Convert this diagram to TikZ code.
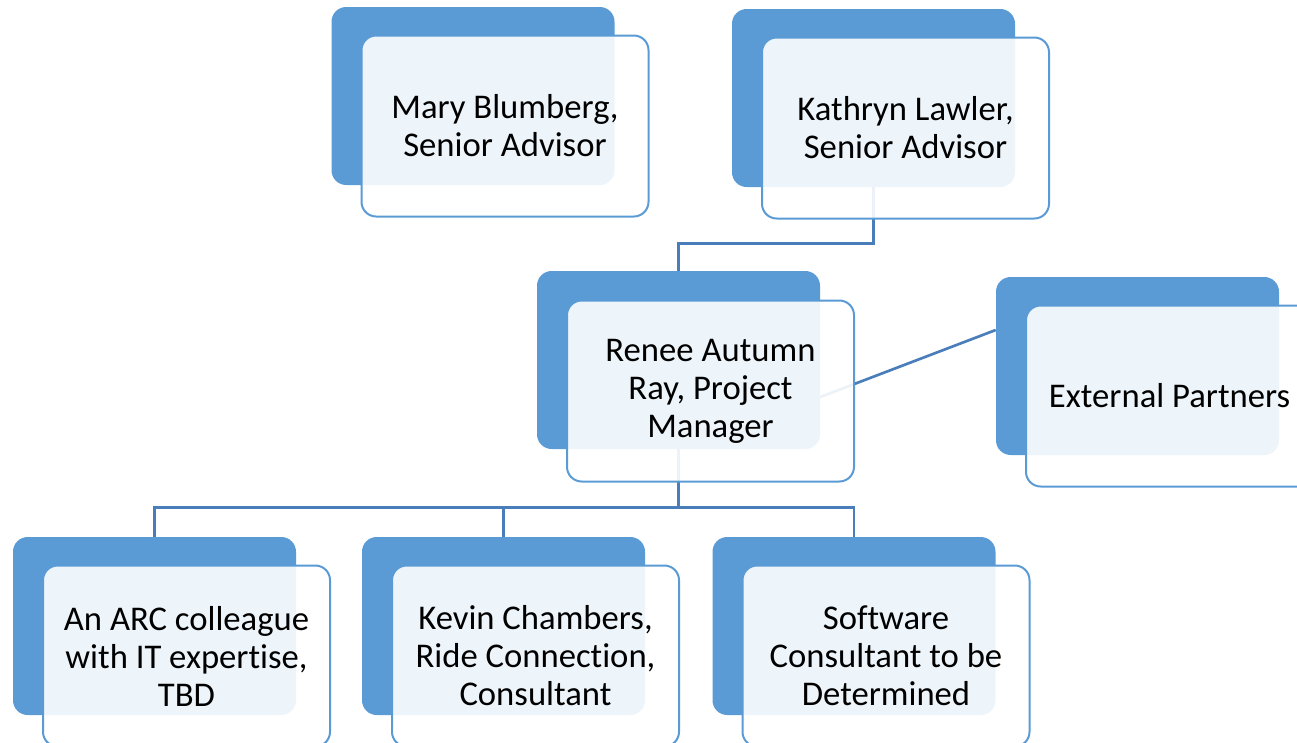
\documentclass[tikz,border=0pt]{standalone}
\usepackage{fontspec}
\setmainfont{Carlito}[Ligatures=NoCommon]
\usetikzlibrary{positioning}

\definecolor{boxblue}{RGB}{91,155,213}
\definecolor{lineblue}{RGB}{74,126,187}

\begin{document}
\begin{tikzpicture}[x=0.75pt, y=-0.75pt,
    backbox/.style={fill=boxblue, rounded corners=11pt, inner sep=0pt,
        minimum width=212.25pt, minimum height=133.5pt},
    frontbox/.style={draw=boxblue, line width=1.5pt, fill=white, fill opacity=0.9,
        text opacity=1, rounded corners=11pt, inner sep=0pt, align=center,
        minimum width=215.25pt, minimum height=135.75pt,
        font=\fontsize{26}{28.5}\selectfont},
    link/.style={draw=lineblue, line width=2pt}]

    \useasboundingbox (0,0) rectangle (1297,743); % page size

    % Dark back cards
    \node[backbox] (maryb) at (473,96) {}; % top row
    \node[backbox] (kathrynb) at (873.5,98) {};
    \node[backbox] (reneeb) at (678.5,360) {}; % project manager
    \node[backbox] (extb) at (1137.5,366) {};
    \node[backbox] (arcb) at (154.5,626) {}; % bottom row
    \node[backbox] (kevinb) at (503.5,626) {};
    \node[backbox] (softb) at (854,626) {};

    % Connectors, drawn under the light cards
    \draw[link] (kathrynb.south) -- ++(0,56) -| (reneeb.north);
    \draw[link] (reneeb.south) -- ++(0,58) coordinate (split); % branch point
    \draw[link] (split) -| (arcb.north);
    \draw[link] (split) -| (kevinb.north);
    \draw[link] (split) -| (softb.north);
    \draw[link] ([yshift=-27.75pt]reneeb.east) -- ([yshift=27pt]extb.west); % side link

    % Light front cards with the names
    \node[frontbox] (mary) at ([shift={(32,30)}]maryb.center) {Mary Blumberg,\\Senior Advisor};
    \node[frontbox] (kathryn) at ([shift={(32,30)}]kathrynb.center) {Kathryn Lawler,\\Senior Advisor};
    \node[frontbox] (renee) at ([shift={(32,31)}]reneeb.center) {Renee Autumn\\Ray, Project\\Manager};
    \node[frontbox] (ext) at ([shift={(32,30)}]extb.center) {External Partners};
    \node[frontbox] (arc) at ([shift={(32,30)}]arcb.center) {An ARC colleague\\with IT expertise,\\TBD};
    \node[frontbox] (kevin) at ([shift={(32,30)}]kevinb.center) {Kevin Chambers,\\Ride Connection,\\Consultant};
    \node[frontbox] (soft) at ([shift={(32,30)}]softb.center) {Software\\Consultant to be\\Determined};
\end{tikzpicture}
\end{document}
